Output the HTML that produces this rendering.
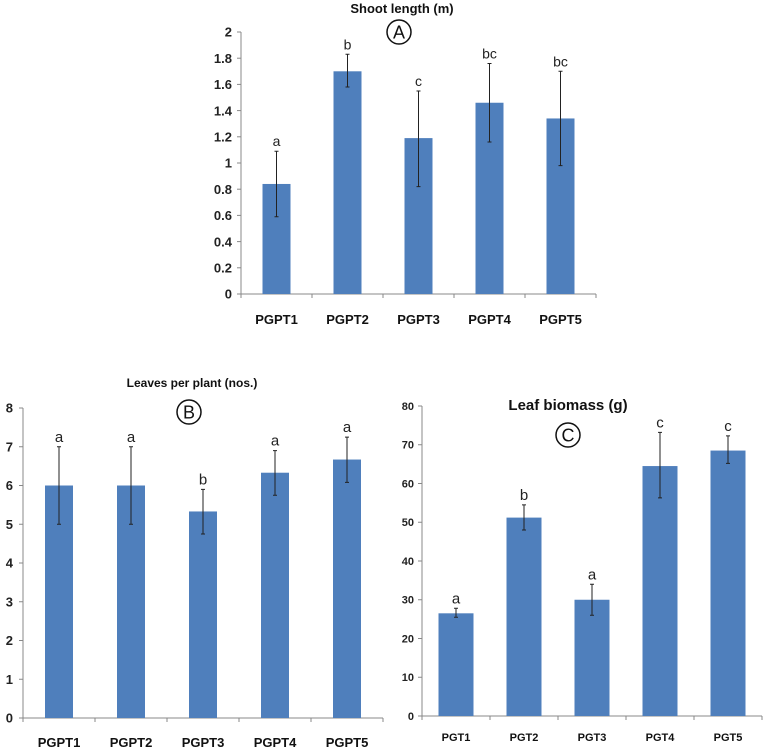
<!DOCTYPE html>
<html><head><meta charset="utf-8"><style>
html,body{margin:0;padding:0;background:#fff;}
svg{display:block;font-family:"Liberation Sans",sans-serif;}
</style></head><body>
<svg id="fig" width="764" height="753" viewBox="0 0 764 753"></svg>
<script>
// Chart A data
const catsA = ["PGPT1","PGPT2","PGPT3","PGPT4","PGPT5"];
const valsA = [0.84,1.70,1.19,1.46,1.34];
const lowA = [0.59,1.58,0.82,1.16,0.98];
const highA = [1.09,1.83,1.55,1.76,1.70];
const lettersA = ["a","b","c","bc","bc"];
const ticksA = ["0","0.2","0.4","0.6","0.8","1","1.2","1.4","1.6","1.8","2"];
// Chart B data
const catsB = ["PGPT1","PGPT2","PGPT3","PGPT4","PGPT5"];
const valsB = [6,6,5.33,6.33,6.67];
const lowB = [5,5,4.75,5.75,6.08];
const highB = [7,7,5.9,6.9,7.25];
const lettersB = ["a","a","b","a","a"];
const ticksB = ["0","1","2","3","4","5","6","7","8"];
// Chart C data
const catsC = ["PGT1","PGT2","PGT3","PGT4","PGT5"];
const valsC = [26.5,51.2,30,64.5,68.5];
const lowC = [25.5,48,26,56.3,65.2];
const highC = [27.8,54.5,34,73.2,72.3];
const lettersC = ["a","b","a","c","c"];
const ticksC = ["0","10","20","30","40","50","60","70","80"];

const NS="http://www.w3.org/2000/svg";
const svg=document.getElementById('fig');
function mk(tag,attrs,parent){const e=document.createElementNS(NS,tag);for(const k in attrs)e.setAttribute(k,attrs[k]);(parent||svg).appendChild(e);return e;}

function chart(o){
  const g=mk('g',{});
  
  
  const max=parseFloat(o.ticks[o.ticks.length-1]);
  const y=v=>o.y0-(v/max)*(o.y0-o.yTop);
  const cw=(o.x1-o.x0)/o.cats.length;
  const x=i=>o.x0+cw*(i+0.5);
  const ya=mk('line',{x1:o.x0,y1:o.yTop,x2:o.x0,y2:o.y0,stroke:'#888','stroke-width':1},g);
  
  
  const xa=mk('line',{x1:o.x0,y1:o.y0,x2:o.x1,y2:o.y0,stroke:'#888','stroke-width':1},g);
  
  
  o.ticks.forEach(t=>{
    const v=parseFloat(t), yy=y(v);
    mk('line',{x1:o.x0-4,y1:yy,x2:o.x0,y2:yy,stroke:'#888'},g);
    const tx=mk('text',{x:o.x0-o.tlGap,y:yy+o.tfs*0.36,'text-anchor':'end','font-size':o.tfs,'font-weight':'bold',fill:'#222'},g);
    tx.textContent=t;
    
    
  });
  for(let i=0;i<=o.cats.length;i++){mk('line',{x1:o.x0+cw*i,y1:o.y0,x2:o.x0+cw*i,y2:o.y0+4,stroke:'#888'},g);}
  o.cats.forEach((c,i)=>{
    const b=mk('rect',{x:x(i)-o.bw/2,y:y(o.vals[i]),width:o.bw,height:o.y0-y(o.vals[i]),fill:'#4f7fbc'},g);
    
    
    const e=mk('path',{d:`M${x(i)},${y(o.high[i])}V${y(o.low[i])}M${x(i)-2},${y(o.high[i])}H${x(i)+2}M${x(i)-2},${y(o.low[i])}H${x(i)+2}`,stroke:'#222','stroke-width':1,fill:'none'},g);
    
    
    const l=mk('text',{x:x(i),y:y(o.high[i])-5,'text-anchor':'middle','font-size':o.lfs,fill:'#222'},g);
    l.textContent=o.letters[i];
    
    
    const cl=mk('text',{x:x(i),y:o.catY,'text-anchor':'middle','font-size':o.cfs,'font-weight':'bold',fill:'#111'},g);
    cl.textContent=c;
    
    
  });
  const t=mk('text',{x:o.titleX,y:o.titleY,'text-anchor':'middle','font-size':o.titleFs,'font-weight':'bold',fill:'#111'},g);
  t.textContent=o.title;
  
  
  mk('circle',{cx:o.cx,cy:o.cy,r:o.cr,fill:'#fff',stroke:'#111','stroke-width':1.5},g);
  const pl=mk('text',{x:o.cx,y:o.cy+o.cr*0.55,'text-anchor':'middle','font-size':o.cr*1.5,fill:'#111'},g);
  pl.textContent=o.panel;
  
  
}

chart({name:'shoot-length-chart',cats:catsA,vals:valsA,low:lowA,high:highA,letters:lettersA,ticks:ticksA,
  x0:241,x1:596,y0:294,yTop:32,bw:28,tfs:13,tlGap:9,lfs:14,cfs:13,catY:324,
  title:'Shoot length (m)',titleX:402,titleY:13,titleFs:13,cx:399,cy:32,cr:12,panel:'A'});
chart({name:'leaves-per-plant-chart',cats:catsB,vals:valsB,low:lowB,high:highB,letters:lettersB,ticks:ticksB,
  x0:23,x1:383,y0:718,yTop:408,bw:28,tfs:13,tlGap:10,lfs:15,cfs:13,catY:747,
  title:'Leaves per plant (nos.)',titleX:192,titleY:387,titleFs:12,cx:189,cy:412,cr:12,panel:'B'});
chart({name:'leaf-biomass-chart',cats:catsC,vals:valsC,low:lowC,high:highC,letters:lettersC,ticks:ticksC,
  x0:422,x1:762,y0:716,yTop:406,bw:35,tfs:11,tlGap:8,lfs:15,cfs:11,catY:741,
  title:'Leaf biomass (g)',titleX:568,titleY:410,titleFs:15,cx:568,cy:435,cr:12,panel:'C'});
</script>
</body></html>
